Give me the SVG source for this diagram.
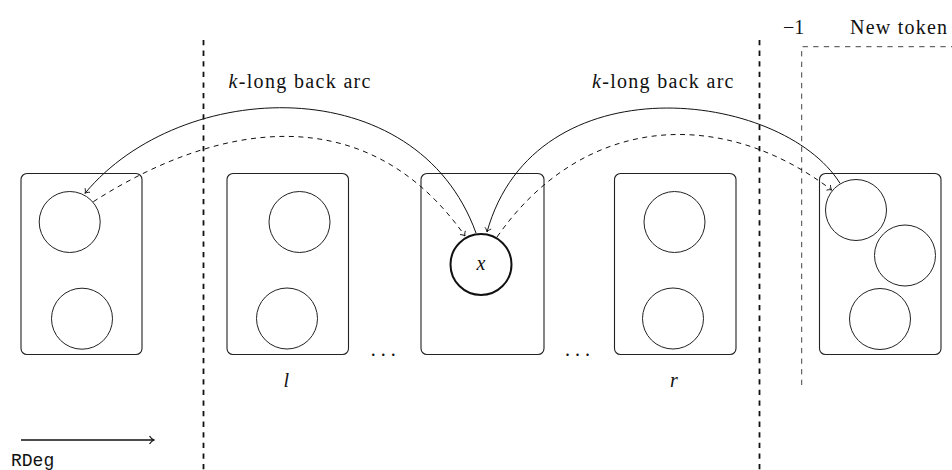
<svg xmlns="http://www.w3.org/2000/svg" width="952" height="470" viewBox="0 0 952 470">
  <style>
    .box { fill: none; stroke: #222; stroke-width: 1.1; }
    .tok { fill: none; stroke: #222; stroke-width: 1; }
    .tok-x { fill: none; stroke: #111; stroke-width: 2; }
    .sep { fill: none; stroke: #111; stroke-width: 1.8; stroke-dasharray: 5.3 5.3; }
    .frame { fill: none; stroke: #444; stroke-width: 1; stroke-dasharray: 5.3 5.3; }
    .arc { fill: none; stroke: #111; stroke-width: 1; }
    .arc-d { fill: none; stroke: #111; stroke-width: 1; stroke-dasharray: 5 4.5; }
    .lbl { font-family: "Liberation Serif", "Times New Roman", serif; font-size: 20px; fill: #111; }
    .mono { font-family: "Liberation Mono", "Courier New", monospace; font-size: 18px; fill: #111; }
  </style>
  <defs>
    <marker id="tip" markerUnits="userSpaceOnUse" markerWidth="10" markerHeight="10" refX="0" refY="0" orient="auto" overflow="visible">
      <path d="M-4,-3.2 C-2.5,-1.2 -0.8,-0.3 0,0 C-0.8,0.3 -2.5,1.2 -4,3.2" fill="none" stroke="#111" stroke-width="0.9"/>
    </marker>
    <marker id="tip-big" markerUnits="userSpaceOnUse" markerWidth="12" markerHeight="12" refX="0" refY="0" orient="auto" overflow="visible">
      <path d="M-4.5,-4 C-3,-1.6 -1,-0.4 0,0 C-1,0.4 -3,1.6 -4.5,4" fill="none" stroke="#111" stroke-width="1.2"/>
    </marker>
  </defs>

  <!-- separators and new-token frame -->
  <g id="separators">
    <line class="sep" x1="203.5" y1="40" x2="203.5" y2="470"/>
    <line class="sep" x1="759.5" y1="40" x2="759.5" y2="470"/>
    <path class="frame" d="M801.7,385 V46.7 H952"/>
  </g>

  <!-- token blocks -->
  <g id="block-1">
    <rect class="box" x="21" y="173.5" width="121" height="181" rx="6"/>
    <circle class="tok" cx="69.7" cy="222" r="30.5"/>
    <circle class="tok" cx="82" cy="318.7" r="30.5"/>
  </g>
  <g id="block-l">
    <rect class="box" x="227" y="173.5" width="121.5" height="181" rx="6"/>
    <circle class="tok" cx="299.5" cy="222" r="30.5"/>
    <circle class="tok" cx="287" cy="318.5" r="30.5"/>
    <text class="lbl" x="283.5" y="386.7" font-style="italic">l</text>
  </g>
  <g id="block-x">
    <rect class="box" x="421" y="173.5" width="123" height="181" rx="6"/>
    <circle class="tok-x" cx="481" cy="264.5" r="30.5"/>
    <text class="lbl" x="481" y="269.5" font-style="italic" text-anchor="middle">x</text>
  </g>
  <g id="block-r">
    <rect class="box" x="614.5" y="173.5" width="121.5" height="181" rx="6"/>
    <circle class="tok" cx="674.5" cy="222" r="30.5"/>
    <circle class="tok" cx="673" cy="318.5" r="30.5"/>
    <text class="lbl" x="674" y="386.7" font-style="italic" text-anchor="middle">r</text>
  </g>
  <g id="block-new">
    <rect class="box" x="819.5" y="173.5" width="121.5" height="181" rx="6"/>
    <circle class="tok" cx="856" cy="210" r="30.5"/>
    <circle class="tok" cx="905" cy="255.5" r="30.5"/>
    <circle class="tok" cx="880" cy="319" r="30.5"/>
  </g>

  <!-- ellipses between blocks -->
  <g id="gaps">
    <text class="lbl" x="383.3" y="355.5" text-anchor="middle">. . .</text>
    <text class="lbl" x="577.5" y="355.5" text-anchor="middle">. . .</text>
  </g>

  <!-- back arcs -->
  <g id="connectors">
    <path class="arc" d="M476,233 C416.5,68.5 181,77.5 85,193.3" marker-end="url(#tip)"/>
    <path class="arc-d" d="M93.3,201.7 C220.9,120 368,98 465,236" marker-end="url(#tip)"/>
    <path class="arc" d="M840,183.3 C781.7,90 535,60 487,232" marker-end="url(#tip)"/>
    <path class="arc-d" d="M497,237 C583,114 721,106 831.7,190" marker-end="url(#tip)"/>
    <line x1="21" y1="440" x2="154" y2="440" stroke="#111" stroke-width="1.3" marker-end="url(#tip-big)"/>
  </g>

  <!-- labels -->
  <g id="labels">
    <text class="lbl" x="228.5" y="88.3" textLength="142" lengthAdjust="spacing"><tspan font-style="italic">k</tspan>-long back arc</text>
    <text class="lbl" x="592" y="88.3" textLength="141.5" lengthAdjust="spacing"><tspan font-style="italic">k</tspan>-long back arc</text>
    <text class="lbl" x="783" y="33.5">−1</text>
    <text class="lbl" x="850" y="33.5" textLength="97" lengthAdjust="spacing">New token</text>
    <text class="mono" x="11" y="466">RDeg</text>
  </g>
</svg>
